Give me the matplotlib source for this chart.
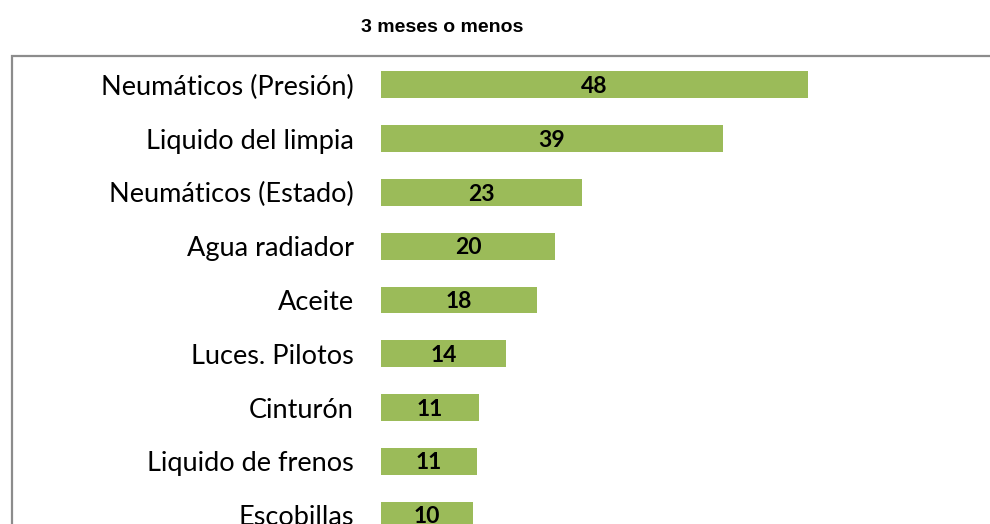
import matplotlib
matplotlib.use("Agg")
import matplotlib.pyplot as plt
from matplotlib.patches import Rectangle

# datos
categorias = ["Neumáticos (Presión)", "Liquido del limpia", "Neumáticos (Estado)",
              "Agua radiador", "Aceite", "Luces. Pilotos", "Cinturón",
              "Liquido de frenos", "Escobillas"]
valores = [48.2, 38.6, 22.7, 19.7, 17.6, 14.1, 11.1, 10.8, 10.4]
titulo = "3 meses o menos"

W, H = 990, 524
fig = plt.figure(figsize=(W / 100, H / 100), dpi=100)

# marco gris del grafico (cortado a la derecha y abajo)
marco = Rectangle((12 / W, -0.2), 1.2, (H - 56) / H + 0.2, transform=fig.transFigure,
                  fill=False, edgecolor="#8c8c8c", linewidth=1.6)
fig.patches.append(marco)

ax = fig.add_axes([381 / W, -18 / H, (W - 381) / W, 484 / H])
y = list(range(len(categorias)))
barras = ax.barh(y, valores, height=0.5, color="#9bbb59")
ax.set_ylim(len(categorias) - 0.5, -0.5)
ax.set_xlim(0, (W - 381) / 8.85)

ax.set_yticks(y)
ax.set_yticklabels(categorias, fontsize=19.5, family="Lato")
ax.tick_params(axis="y", length=0, pad=19.5)
ax.set_xticks([])
for s in ax.spines.values():
    s.set_visible(False)

for b, v in zip(barras, valores):
    ax.text(b.get_width() / 2, b.get_y() + b.get_height() / 2 + 0.03, "%.0f" % v,
            ha="center", va="center", fontsize=16.5, fontweight="bold", family="Lato")

fig.text(442 / W, 1 - 27 / H, titulo, ha="center", va="center",
         fontsize=14, fontweight="bold", family="Liberation Sans")

fig.savefig("out.png", dpi=100)
